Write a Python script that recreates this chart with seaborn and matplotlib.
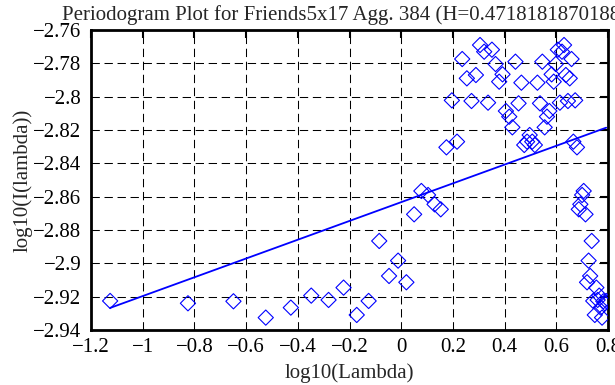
import numpy as np
import pandas as pd
import matplotlib
matplotlib.use('Agg')
import matplotlib.pyplot as plt
import seaborn as sns
from matplotlib.ticker import FuncFormatter

# log10(lambda) for k = 1..83
log_lambda = [
    -1.126, -0.825, -0.649, -0.524, -0.427, -0.348, -0.281, -0.223, -0.172, -0.126,
    -0.085, -0.047, -0.012, 0.020, 0.050, 0.078, 0.104, 0.129, 0.153, 0.175,
    0.196, 0.216, 0.236, 0.254, 0.272, 0.289, 0.305, 0.321, 0.336, 0.351,
    0.365, 0.379, 0.392, 0.405, 0.418, 0.430, 0.442, 0.454, 0.465, 0.476,
    0.487, 0.497, 0.507, 0.517, 0.527, 0.537, 0.546, 0.555, 0.564, 0.573,
    0.582, 0.590, 0.598, 0.606, 0.614, 0.622, 0.630, 0.637, 0.645, 0.652,
    0.659, 0.666, 0.673, 0.680, 0.687, 0.693, 0.700, 0.706, 0.713, 0.719,
    0.725, 0.731, 0.737, 0.743, 0.749, 0.755, 0.760, 0.766, 0.772, 0.777,
    0.782, 0.788, 0.793,
]

# log10(I(lambda))
log_I = [
    -2.9226, -2.9240, -2.9228, -2.9326, -2.9266, -2.9194, -2.9220, -2.9146, -2.9310, -2.9226,
    -2.8866, -2.9076, -2.8984, -2.9114, -2.8706, -2.8566, -2.8590, -2.8646, -2.8676, -2.8304,
    -2.8022, -2.8270, -2.7774, -2.7890, -2.8026, -2.7870, -2.7690, -2.7730, -2.8036, -2.7718,
    -2.7804, -2.7910, -2.7866, -2.8086, -2.8120, -2.8184, -2.7790, -2.8040, -2.7916, -2.8290,
    -2.8270, -2.8230, -2.8270, -2.8290, -2.7916, -2.8040, -2.7790, -2.8184, -2.8120, -2.8086,
    -2.7866, -2.7910, -2.7804, -2.7718, -2.8036, -2.7730, -2.7690, -2.7870, -2.8026, -2.7890,
    -2.7774, -2.8270, -2.8022, -2.8304, -2.8676, -2.8646, -2.8590, -2.8566, -2.8706, -2.9114,
    -2.8984, -2.9076, -2.8866, -2.9226, -2.9310, -2.9146, -2.9220, -2.9194, -2.9266, -2.9326,
    -2.9228, -2.9240, -2.9226,
]

# regression line: slope = 1 - 2H
H = 0.47181818701888
fit_intercept = -2.8633

x_ticks = [-1.2, -1.0, -0.8, -0.6, -0.4, -0.2, 0.0, 0.2, 0.4, 0.6, 0.8]
y_ticks = [-2.94, -2.92, -2.90, -2.88, -2.86, -2.84, -2.82, -2.80, -2.78, -2.76]

df = pd.DataFrame({'x': log_lambda, 'y': log_I})

sns.set_style('white')
plt.rcParams['font.family'] = ['Liberation Serif', 'DejaVu Serif']
plt.rcParams['font.size'] = 15

fig = plt.figure(figsize=(6.15, 3.85), dpi=100)
ax = fig.add_axes([0.148, 0.143, 0.8406, 0.779])

sns.scatterplot(data=df, x='x', y='y', marker='D', s=60, facecolor='none',
                edgecolor='#0000ff', linewidth=0.8, ax=ax, zorder=3)

slope = 1 - 2 * H
xs = np.array([df['x'].min(), df['x'].max()])
sns.lineplot(x=xs, y=fit_intercept + slope * xs, color='#0000ff', linewidth=1.3, ax=ax, zorder=4)

ax.set_xlim(-1.2, 0.8)
ax.set_ylim(-2.94, -2.76)
ax.set_xticks(x_ticks)
ax.set_yticks(y_ticks)
fmt = FuncFormatter(lambda v, p: ('%g' % round(v, 4)).replace('-', '\u2212'))
ax.xaxis.set_major_formatter(fmt)
ax.yaxis.set_major_formatter(fmt)
ax.grid(True, color='black', linestyle=(0, (8, 4.5)), linewidth=0.75)
ax.tick_params(direction='in', length=6, width=1.5, top=True, right=True,
               labelsize=15, colors='black')
ax.tick_params(axis='y', pad=7)
ax.tick_params(axis='x', pad=6)
for sp in ax.spines.values():
    sp.set_linewidth(2)
    sp.set_color('black')

ax.set_title('Periodogram Plot for Friends5x17 Agg. 384 (H=0.47181818701888)', fontsize=15, pad=7)
ax.set_xlabel('log10(Lambda)', fontsize=15, labelpad=4)
ax.set_ylabel('log10(I(lambda))', fontsize=15, labelpad=0)

fig.savefig('out.png', dpi=100)
